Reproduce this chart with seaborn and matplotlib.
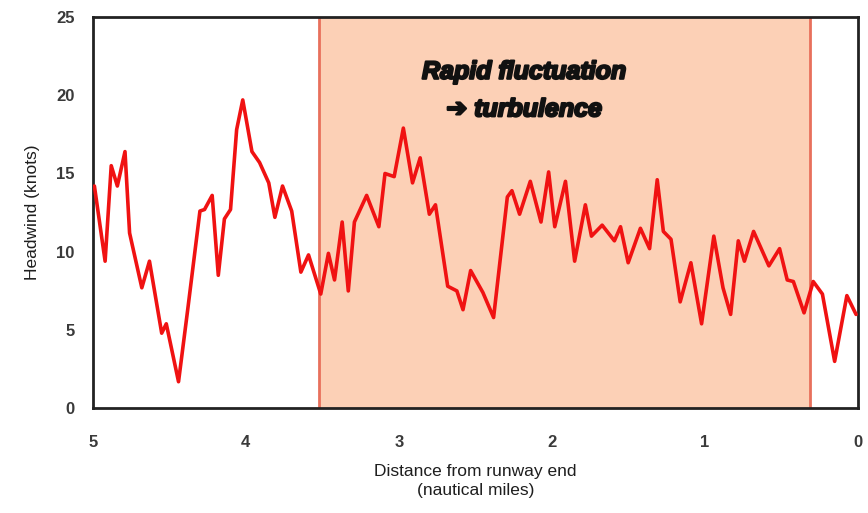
import matplotlib
matplotlib.use("Agg")
import matplotlib.pyplot as plt
import matplotlib.patheffects as pe
import seaborn as sns
import pandas as pd

# Headwind profile along the approach (distance in nautical miles, headwind in knots)
distance_nm = [4.99, 4.92, 4.88, 4.84, 4.79, 4.76, 4.68, 4.63, 4.55, 4.52, 4.44, 4.38,
               4.30, 4.27, 4.22, 4.18, 4.14, 4.10, 4.06, 4.02, 3.96, 3.91, 3.85, 3.81,
               3.76, 3.70, 3.64, 3.59, 3.51, 3.46, 3.42, 3.37, 3.33, 3.29, 3.21, 3.13,
               3.09, 3.03, 2.97, 2.91, 2.86, 2.80, 2.76, 2.68, 2.62, 2.58, 2.53, 2.45,
               2.38, 2.29, 2.26, 2.21, 2.14, 2.07, 2.02, 1.98, 1.91, 1.85, 1.78, 1.74,
               1.67, 1.59, 1.55, 1.50, 1.42, 1.36, 1.31, 1.27, 1.22, 1.16, 1.09, 1.02,
               0.94, 0.88, 0.83, 0.78, 0.74, 0.68, 0.58, 0.51, 0.46, 0.42, 0.35, 0.29,
               0.23, 0.15, 0.07, 0.01]
headwind_kt = [14.2, 9.4, 15.5, 14.2, 16.4, 11.2, 7.7, 9.4, 4.8, 5.4, 1.7, 6.3,
               12.6, 12.7, 13.6, 8.5, 12.1, 12.7, 17.8, 19.7, 16.4, 15.7, 14.4, 12.2,
               14.2, 12.6, 8.7, 9.8, 7.3, 9.9, 8.2, 11.9, 7.5, 11.9, 13.6, 11.6,
               15.0, 14.8, 17.9, 14.4, 16.0, 12.4, 13.0, 7.8, 7.5, 6.3, 8.8, 7.4,
               5.8, 13.5, 13.9, 12.4, 14.5, 11.9, 15.1, 11.6, 14.5, 9.4, 13.0, 11.0,
               11.7, 10.7, 11.6, 9.3, 11.5, 10.2, 14.6, 11.3, 10.8, 6.8, 9.3, 5.4,
               11.0, 7.7, 6.0, 10.7, 9.4, 11.3, 9.1, 10.2, 8.2, 8.1, 6.1, 8.1,
               7.3, 3.0, 7.2, 6.0]

turbulence_span = [0.31, 3.52]
x_ticks = [5, 4, 3, 2, 1, 0]
y_ticks = [0, 5, 10, 15, 20, 25]

df = pd.DataFrame({"distance": distance_nm, "headwind": headwind_kt})

sns.set_theme(style="white")
plt.rcParams["font.family"] = ["Liberation Sans", "DejaVu Sans"]

fig = plt.figure(figsize=(8.68, 5.13), dpi=100)
ax = fig.add_axes([0.107, 0.204, 0.881, 0.763])

# Shaded turbulence band
ax.axvspan(turbulence_span[0], turbulence_span[1], facecolor="#FCD0B6",
           edgecolor="none", zorder=0)
for xv in turbulence_span:
    ax.axvline(xv, color="#E8705C", lw=2, zorder=1)

sns.lineplot(data=df, x="distance", y="headwind", ax=ax, color="#F01212",
             lw=2.6, sort=False, zorder=3, solid_joinstyle="round",
             solid_capstyle="round")

ax.set_xlim(5, 0)
ax.set_ylim(0, 25)
ax.set_xticks(x_ticks)
ax.set_yticks(y_ticks)
ax.tick_params(direction="in", length=6, width=1.5, colors="#222222",
               labelcolor="#3a3a3a", labelsize=12)
ax.tick_params(axis="x", pad=19)
ax.tick_params(axis="y", pad=13)
for lab in ax.get_xticklabels() + ax.get_yticklabels():
    lab.set_fontweight("bold")
for s in ax.spines.values():
    s.set_color("#222222")
    s.set_linewidth(2)

ax.set_xlabel("Distance from runway end\n(nautical miles)", fontsize=12.5,
              color="#1e1e1e", labelpad=10, linespacing=1.35)
ax.set_ylabel("Headwind (knots)", fontsize=12.5, color="#1e1e1e", labelpad=12)

heavy = [pe.withStroke(linewidth=1.6, foreground="#111111")]
ax.text(2.18, 21.5, "Rapid fluctuation", ha="center", va="center",
        fontsize=18, fontweight="bold", style="italic", color="#111111",
        path_effects=heavy)
ax.text(2.18, 19.1, "➔ turbulence", ha="center", va="center",
        fontsize=18, fontweight="bold", style="italic", color="#111111",
        family=["Liberation Sans", "DejaVu Sans"], path_effects=heavy)

fig.savefig("out.png", dpi=100, facecolor="white")
